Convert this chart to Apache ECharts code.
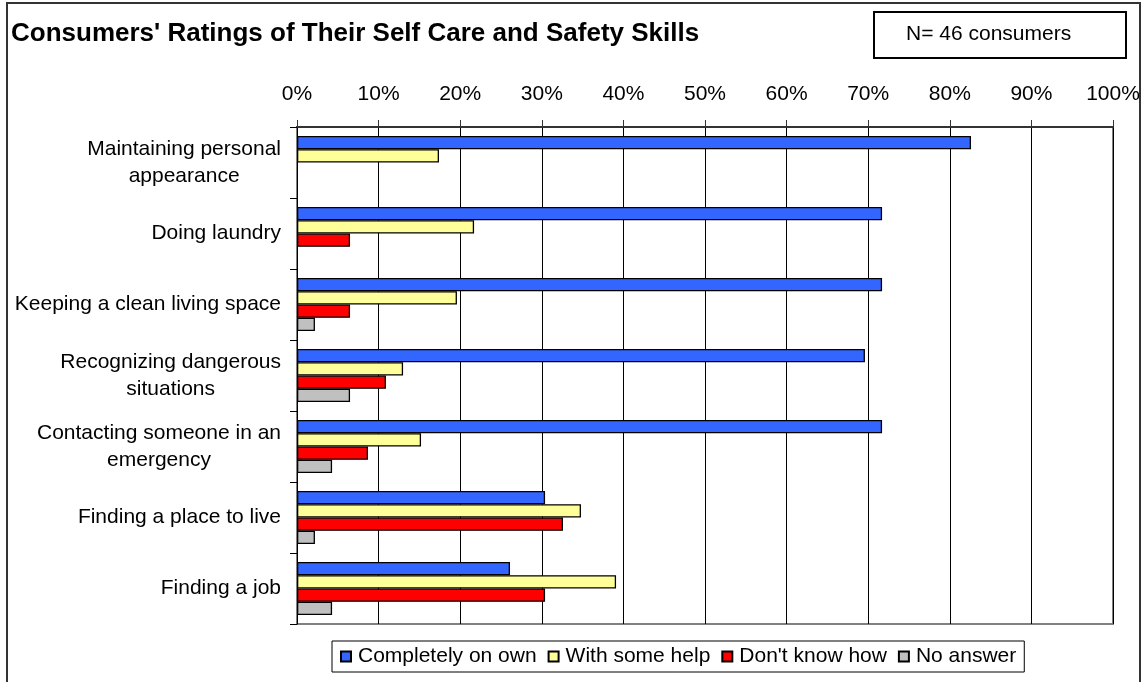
<!DOCTYPE html>
<html>
<head>
<meta charset="utf-8">
<script src="https://cdn.jsdelivr.net/npm/echarts@6/dist/echarts.min.js"></script>
<style>
  html, body { margin: 0; padding: 0; background: #fff; }
  #main { width: 1144px; height: 682px; }
</style>
</head>
<body>
<div id="main"></div>
<script>
// categories top to bottom
var categories = [
  'Maintaining personal\nappearance',
  'Doing laundry',
  'Keeping a clean living space',
  'Recognizing dangerous\nsituations',
  'Contacting someone in an\nemergency',
  'Finding a place to live',
  'Finding a job'
];
var seriesNames = ['Completely on own', 'With some help', "Don't know how", 'No answer'];
// percent of consumers (N = 46)
var onOwn    = [82.6, 71.7, 71.7, 69.6, 71.7, 30.4, 26.1];
var someHelp = [17.4, 21.7, 19.6, 13.0, 15.2, 34.8, 39.1];
var dontKnow = [0,    6.5,  6.5,  10.9, 8.7,  32.6, 30.4];
var noAnswer = [0,    0,    2.2,  6.5,  4.3,  2.2,  4.3];
var colors = ['#3366FF', '#FFFF99', '#FF0000', '#C0C0C0'];
var tickLabels = ['0%','10%','20%','30%','40%','50%','60%','70%','80%','90%','100%'];

var FONT = '"Liberation Sans", Arial, sans-serif';

var chartDom = document.getElementById('main');
var myChart = echarts.init(chartDom);

function mkSeries(name, data, i) {
  return {
    name: name,
    type: 'bar',
    // zero bars are not drawn in the original
    data: data.map(function (v) { return v === 0 ? '-' : v; }),
    barWidth: 13.3,
    barGap: '0%',
    itemStyle: {color: colors[i], borderColor: '#000', borderWidth: 1.3},
    emphasis: {disabled: true}
  };
}

var option = {
  animation: false,
  textStyle: {fontFamily: FONT},
  title: {
    text: "Consumers' Ratings of Their Self Care and Safety Skills",
    left: 11, top: 21, padding: 0,
    textStyle: {fontFamily: FONT, fontSize: 26, fontWeight: 'bold', color: '#000'}
  },
  graphic: [
    {type: 'rect', shape: {x: 7, y: 3, width: 1133, height: 685},
     style: {fill: 'none', stroke: '#333', lineWidth: 2}, silent: true},
    {type: 'rect', shape: {x: 874, y: 12, width: 252, height: 46},
     style: {fill: '#fff', stroke: '#000', lineWidth: 2}, silent: true},
    {type: 'text', left: 906, top: 24,
     style: {text: 'N= 46 consumers', fontFamily: FONT, fontSize: 21, fill: '#000'}, silent: true}
  ],
  legend: {
    left: 332, top: 641,
    padding: [5, 8, 5, 8],
    borderColor: '#000', borderWidth: 1,
    itemWidth: 10, itemHeight: 10, itemGap: 11,
    icon: 'rect',
    selectedMode: false,
    textStyle: {fontFamily: FONT, fontSize: 21, color: '#000', padding: [0, 0, 0, 2]},
    data: seriesNames
  },
  grid: {
    left: 297, right: 31, top: 127, bottom: 58,
    show: true, borderColor: '#808080', borderWidth: 2, backgroundColor: 'transparent'
  },
  xAxis: {
    type: 'value', position: 'top',
    min: 0, max: 100, interval: 10,
    axisLine: {show: true, lineStyle: {color: '#333', width: 2}},
    axisTick: {show: true, length: 7, lineStyle: {color: '#333', width: 1}},
    axisLabel: {
      margin: 22, fontSize: 21, color: '#000', fontFamily: FONT,
      formatter: function (v) { return tickLabels[Math.round(v / 10)]; }
    },
    splitLine: {show: true, lineStyle: {color: '#000', width: 1}}
  },
  yAxis: {
    type: 'category', inverse: true, data: categories,
    axisLine: {show: true, lineStyle: {color: '#000', width: 1}},
    axisTick: {show: true, length: 7, lineStyle: {color: '#000'}},
    axisLabel: {
      margin: 16, fontSize: 21, color: '#000', fontFamily: FONT, align: 'right',
      formatter: function (v) {
        return v.split('\n').map(function (s) { return '{c|' + s + '}'; }).join('\n');
      },
      rich: {c: {align: 'center', fontSize: 21, lineHeight: 27, fontFamily: FONT, color: '#000'}}
    }
  },
  series: [
    mkSeries(seriesNames[0], onOwn, 0),
    mkSeries(seriesNames[1], someHelp, 1),
    mkSeries(seriesNames[2], dontKnow, 2),
    mkSeries(seriesNames[3], noAnswer, 3)
  ]
};

option && myChart.setOption(option);
</script>
</body>
</html>
